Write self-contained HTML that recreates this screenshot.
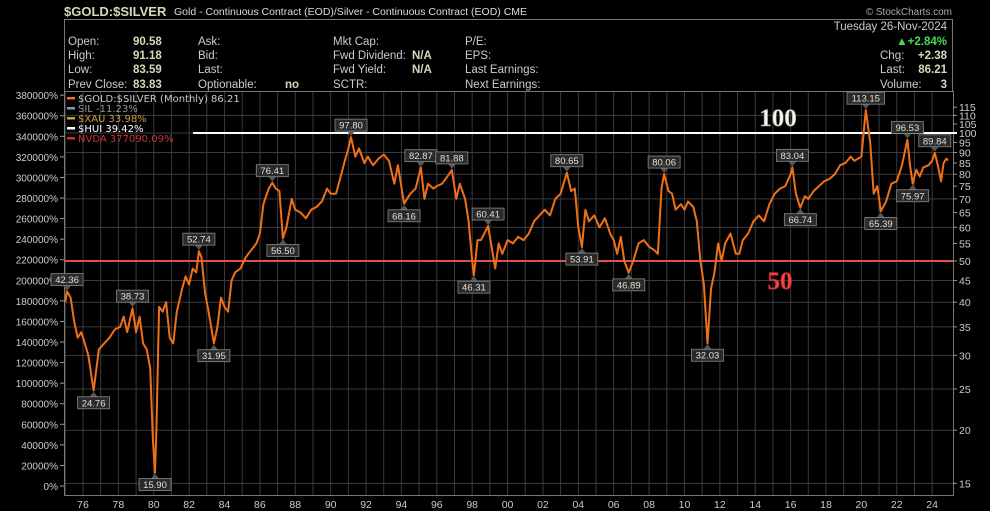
<!DOCTYPE html>
<html><head><meta charset="utf-8"><style>
body{margin:0;background:#000;width:990px;height:511px;overflow:hidden;font-family:"Liberation Sans",sans-serif}
svg{display:block}
</style></head><body>
<svg id="chart" width="990" height="511" viewBox="0 0 990 511" xmlns="http://www.w3.org/2000/svg" font-family="Liberation Sans, sans-serif">
<rect width="990" height="511" fill="#000"/>
<text x="64" y="16" font-size="13" font-weight="bold" fill="#d8d8b8">$GOLD:$SILVER</text>
<text x="174" y="15" font-size="10.5" fill="#ddd">Gold - Continuous Contract (EOD)/Silver - Continuous Contract (EOD) CME</text>
<text x="952" y="15" font-size="10" fill="#aaa" text-anchor="end">© StockCharts.com</text>
<g font-size="11.5" fill="#ccc">
<rect x="64.5" y="19.5" width="888" height="72" fill="none" stroke="#777"/>
<text x="68" y="45">Open:</text><text x="133" y="45" font-weight="bold" fill="#d8d8b8">90.58</text>
<text x="68" y="59">High:</text><text x="133" y="59" font-weight="bold" fill="#d8d8b8">91.18</text>
<text x="68" y="73">Low:</text><text x="133" y="73" font-weight="bold" fill="#d8d8b8">83.59</text>
<text x="68" y="88">Prev Close:</text><text x="133" y="88" font-weight="bold" fill="#d8d8b8">83.83</text>
<text x="198" y="45">Ask:</text><text x="198" y="59">Bid:</text><text x="198" y="73">Last:</text>
<text x="198" y="88">Optionable:</text><text x="285" y="88" font-weight="bold" fill="#d8d8b8">no</text>
<text x="333" y="45">Mkt Cap:</text>
<text x="333" y="59">Fwd Dividend:</text><text x="412" y="59" font-weight="bold" fill="#d8d8b8">N/A</text>
<text x="333" y="73">Fwd Yield:</text><text x="412" y="73" font-weight="bold" fill="#d8d8b8">N/A</text>
<text x="333" y="88">SCTR:</text>
<text x="465" y="45">P/E:</text><text x="465" y="59">EPS:</text><text x="465" y="73">Last Earnings:</text><text x="465" y="88">Next Earnings:</text>
<text x="947" y="30" text-anchor="end">Tuesday  26-Nov-2024</text>
<text x="947" y="45" text-anchor="end" font-weight="bold" fill="#44dd55">▲+2.84%</text>
<text x="880" y="59">Chg:</text><text x="947" y="59" text-anchor="end" font-weight="bold" fill="#d8d8b8">+2.38</text>
<text x="880" y="73">Last:</text><text x="947" y="73" text-anchor="end" font-weight="bold" fill="#d8d8b8">86.21</text>
<text x="880" y="88">Volume:</text><text x="947" y="88" text-anchor="end" font-weight="bold" fill="#d8d8b8">3</text>
</g>
<g id="grid"></g><g id="axes"></g><g id="lines"></g><g id="series"></g><g id="notes"></g>
<g font-size="10" font-family="DejaVu Sans, sans-serif">
<rect x="67" y="97" width="8" height="2.5" fill="#f07020"/><text x="78" y="102" fill="#ccc">$GOLD:$SILVER (Monthly) 86.21</text>
<rect x="67" y="107" width="8" height="2.5" fill="#8899aa"/><text x="78" y="112" fill="#8899aa">SIL -11.23%</text>
<rect x="67" y="117" width="8" height="2.5" fill="#c8a040"/><text x="78" y="122" fill="#c8a040">$XAU 33.98%</text>
<rect x="67" y="127" width="8" height="2.5" fill="#fff"/><text x="78" y="132" fill="#fff">$HUI 39.42%</text>
<rect x="67" y="137" width="8" height="2.5" fill="#cc3333"/><text x="78" y="142" fill="#cc3333">NVDA 377090.09%</text>
</g>
<text x="778" y="126" font-size="25" font-weight="bold" font-family="Liberation Serif, serif" fill="#f4f4e8" stroke="#888" stroke-width="0.6" text-anchor="middle">100</text>
<text x="780" y="289" font-size="25" font-weight="bold" font-family="Liberation Serif, serif" fill="#ee4444" stroke="#aa2222" stroke-width="0.6" text-anchor="middle">50</text>
</svg>
<script>
const times=[1975.0,1975.1,1975.3,1975.5,1975.7,1975.9,1976.1,1976.3,1976.6,1976.9,1977.2,1977.5,1977.8,1978.1,1978.3,1978.5,1978.8,1979.0,1979.2,1979.4,1979.6,1979.8,1979.95,1980.07,1980.15,1980.3,1980.5,1980.7,1980.9,1981.1,1981.3,1981.6,1981.8,1982.0,1982.2,1982.4,1982.55,1982.7,1982.9,1983.1,1983.4,1983.6,1983.8,1984.0,1984.2,1984.4,1984.6,1984.9,1985.2,1985.5,1985.8,1986.0,1986.2,1986.5,1986.7,1986.9,1987.1,1987.3,1987.5,1987.8,1988.0,1988.3,1988.6,1988.9,1989.2,1989.5,1989.8,1990.0,1990.3,1990.6,1990.8,1991.0,1991.15,1991.4,1991.6,1991.9,1992.1,1992.4,1992.7,1993.0,1993.3,1993.6,1993.8,1994.15,1994.5,1994.8,1995.1,1995.3,1995.5,1995.8,1996.0,1996.3,1996.6,1996.85,1997.1,1997.3,1997.6,1997.8,1998.0,1998.1,1998.3,1998.5,1998.9,1999.1,1999.3,1999.5,1999.7,2000.0,2000.3,2000.6,2000.9,2001.2,2001.5,2001.8,2002.1,2002.4,2002.7,2003.0,2003.35,2003.6,2003.8,2004.0,2004.2,2004.4,2004.6,2004.9,2005.2,2005.5,2005.8,2006.0,2006.2,2006.4,2006.6,2006.85,2007.1,2007.4,2007.7,2008.0,2008.3,2008.5,2008.7,2008.85,2009.1,2009.3,2009.5,2009.8,2010.0,2010.2,2010.5,2010.7,2010.9,2011.1,2011.3,2011.5,2011.7,2011.9,2012.1,2012.3,2012.6,2012.9,2013.1,2013.3,2013.6,2013.9,2014.2,2014.5,2014.8,2015.1,2015.4,2015.7,2016.0,2016.1,2016.3,2016.55,2016.8,2017.0,2017.3,2017.6,2017.9,2018.2,2018.5,2018.8,2019.1,2019.4,2019.6,2019.8,2020.0,2020.25,2020.5,2020.7,2020.9,2021.1,2021.4,2021.7,2022.0,2022.3,2022.6,2022.75,2022.9,2023.1,2023.3,2023.5,2023.8,2024.0,2024.15,2024.35,2024.5,2024.65,2024.8,2024.9];
const ratio=[40,42.4,41,36,33,34,32,30,24.8,31,32,33,34.5,35,37,34,38.7,34,37,32,31,28,19,15.9,20,39,38,40,33,32,38,43,46,44,48,47,52.7,51,42,38,32,35,41,39,38,45,47,48,51,53,55,58,68,74,76.4,74,73,56.5,60,70,66,65,63,66,67,69,74,72,72,80,86,92,97.8,88,92,85,88,84,87,89,86,76,84,68.2,72,74,82.9,70,76,74,75,76,79,81.9,70,76,70,62,50,46.3,56,56,60.4,54,48,55,52,56,55,57,56,58,62,64,66,64,70,72,80.7,73,74,60,53.9,66,62,64,60,63,58,56,52,57,50,46.9,50,55,56,54,53,52,74,80.1,73,72,66,68,66,69,67,62,50,44,32.0,43,47,55,50,55,58,52,52,56,58,62,64,62,68,72,74,75,80,83,72,66.7,71,70,73,75,77,78,80,84,85,88,86,87,88,113.2,95,72,75,65.4,69,76,77,84,96.5,84,76,82,79,83,84,86,89.8,83,77,85,87,86.2];
const noteTimes=[1975.1,1976.6,1978.8,1980.07,1982.55,1983.4,1986.7,1987.3,1991.15,1994.15,1995.1,1996.85,1998.1,1998.9,2003.35,2004.2,2006.85,2008.85,2011.3,2016.1,2016.55,2020.25,2021.1,2022.6,2022.9,2024.15];
const noteValues=[42.36,24.76,38.73,15.90,52.74,31.95,76.41,56.50,97.80,68.16,82.87,81.88,46.31,60.41,80.65,53.91,46.89,80.06,32.03,83.04,66.74,113.15,65.39,96.53,75.97,89.84];
const noteSides=['up','down','up','down','up','down','up','down','up','down','up','up','down','up','up','down','down','up','down','up','down','up','down','up','down','up'];
const rightTicks=[15,20,25,30,35,40,45,50,55,60,65,70,75,80,85,90,95,100,105,110,115];
const gridValues=[15,20,25,30,35,40,45,50,60,70,80,90,100,110];
const leftTicks=[0,20000,40000,60000,80000,100000,120000,140000,160000,180000,200000,220000,240000,260000,280000,300000,320000,340000,360000,380000];
const yearLabels=['76','78','80','82','84','86','88','90','92','94','96','98','00','02','04','06','08','10','12','14','16','18','20','22','24'];
const refLevels=[100,50];

const NS='http://www.w3.org/2000/svg';
const L=64,R=953,T=91,B=495;
function xS(t){return 83+(t-1976)*17.69;}
function yS(v){return 133-Math.log2(v/100)*128;}
function yL(p){return 486-p/20000*20.57;}
function mk(tag,at,parent){const e=document.createElementNS(NS,tag);for(const k in at)e.setAttribute(k,at[k]);parent.appendChild(e);return e;}
const grid=document.getElementById('grid'),axes=document.getElementById('axes'),lines=document.getElementById('lines'),series=document.getElementById('series'),notes=document.getElementById('notes');
for(let y=1975;y<=2024;y++){const x=xS(y);const g=mk('line',{x1:x,x2:x,y1:T,y2:B,stroke:'#3a3a3a','stroke-width':1},grid);

}
gridValues.forEach(v=>{const y=yS(v);const g=mk('line',{x1:L,x2:R,y1:y,y2:y,stroke:'#3a3a3a','stroke-width':1},grid);

});
const fr=mk('rect',{x:L+0.5,y:T+0.5,width:R-L,height:B-T,fill:'none',stroke:'#777'},axes);


rightTicks.forEach(v=>{const y=yS(v);mk('line',{x1:R,x2:R+4,y1:y,y2:y,stroke:'#999'},axes);
const t=mk('text',{x:R+6,y:y+4,'font-size':10.5,fill:'#ccc'},axes);t.textContent=v;

});
leftTicks.forEach(p=>{const y=yL(p);mk('line',{x1:L-4,x2:L,y1:y,y2:y,stroke:'#999'},axes);
const t=mk('text',{x:L-6,y:y+4,'font-size':10,fill:'#ccc','text-anchor':'end'},axes);t.textContent=p+'%';

});
yearLabels.forEach(s=>{let yr=+s;yr+=yr>50?1900:2000;const t=mk('text',{x:xS(yr),y:508,'font-size':10.5,fill:'#ccc','text-anchor':'middle'},axes);t.textContent=s;

});
refLevels.forEach((v,i)=>{const y=yS(v);const ln=mk('line',{x1:i==0?193:L,x2:i==0?957:R,y1:y,y2:y,stroke:i==0?'#fff':'#e05050','stroke-width':2},lines);

});
const pts=times.map((t,i)=>xS(t).toFixed(1)+','+yS(ratio[i]).toFixed(1)).join(' ');
const pl=mk('polyline',{points:pts,fill:'none',stroke:'#f07018','stroke-width':2,'stroke-linejoin':'round'},series);


noteTimes.forEach((t,i)=>{const x=xS(t),y=yS(noteValues[i]);const up=noteSides[i]=='up';
const g=mk('g',{},notes);


const txt=noteValues[i].toFixed(2);const w=txt.length*5.6+4,h=12;
const by=up?y-6-h:y+6;
mk('path',{d:up?`M${x-4},${y-6}L${x+4},${y-6}L${x},${y-1}Z`:`M${x-4},${y+6}L${x+4},${y+6}L${x},${y+1}Z`,fill:'#555'},g);
mk('rect',{x:x-w/2,y:by,width:w,height:h,fill:'#2a2a2a',stroke:'#888','stroke-width':0.8},g);
const tx=mk('text',{x:x,y:by+9.5,'font-size':9.5,fill:'#e0e0d0','text-anchor':'middle'},g);tx.textContent=txt;});
</script>
</body></html>
